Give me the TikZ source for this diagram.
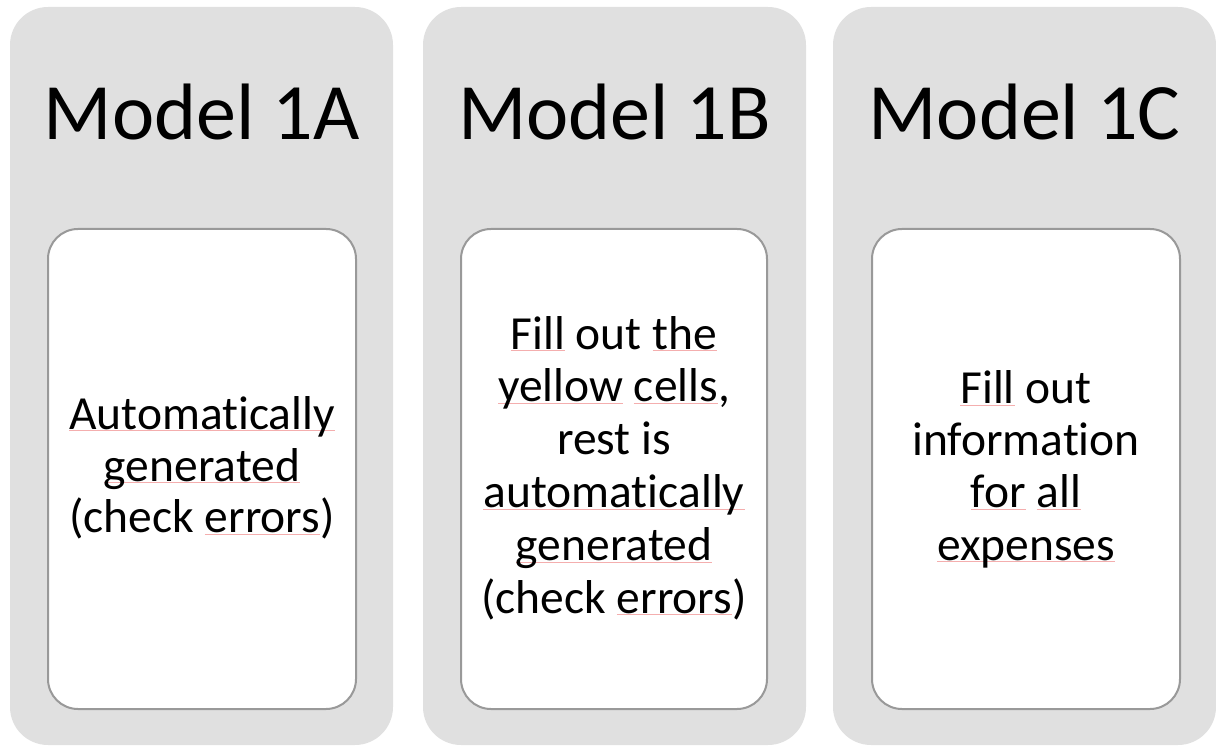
\documentclass[tikz,border=0pt]{standalone}
\usepackage{fontspec}
\setmainfont{Carlito}[Ligatures=NoCommon]
\definecolor{panel}{HTML}{E0E0E0}
\definecolor{edge}{HTML}{999999}
\definecolor{squig}{HTML}{F4AEAE}
\newcommand\sqz[1]{\setbox0\hbox{#1}\rlap{\textcolor{squig}{\rule[-2.2pt]{\wd0}{0.8pt}}}\box0\relax}
\tikzset{
  panelbox/.style={fill=panel, draw=none, rounded corners=38pt},
  innerbox/.style={fill=white, draw=edge, line width=2pt, rounded corners=30pt},
  titletext/.style={anchor=base, inner sep=0pt, font=\fontsize{80}{96}\selectfont},
  bodytext/.style={anchor=base, inner sep=0pt, align=center},
}
\begin{document}
\begin{tikzpicture}[x=1pt,y=1pt]
\useasboundingbox (0,0) rectangle (1216,748);
% panels (image y -> 748 - y)
\path[panelbox] (10,3) rectangle (393,741);
\path[panelbox] (423,3) rectangle (806,741);
\path[panelbox] (833,3) rectangle (1216,741);
\path[innerbox] (48,39) rectangle (356,519);
\path[innerbox] (461,39) rectangle (767,519);
\path[innerbox] (872,39) rectangle (1180,519);
% titles
\node[titletext] (t1) at (201.5,608) {Model 1A};
\node[titletext] (t2) at (614.5,608) {Model 1B};
\node[titletext] (t3) at (1024.5,608) {Model 1C};
% bodies (anchor = baseline of last line)
\node[bodytext, font=\fontsize{47.5}{52}\selectfont] (b1) at (202,215)
  {\sqz{Automatically}\\ \sqz{generated}\\ (check \sqz{errors})};
\node[bodytext, font=\fontsize{47.5}{52.8}\selectfont] (b2) at (614,135)
  {\sqz{Fill} out \sqz{the}\\ \sqz{yellow} \sqz{cells},\\ rest is\\ \sqz{automatically}\\ \sqz{generated}\\ (check \sqz{errors})};
\node[bodytext, font=\fontsize{47.5}{52.3}\selectfont] (b3) at (1026,188)
  {\sqz{Fill} out\\ information\\ \sqz{for} \sqz{all}\\ \sqz{expenses}};
\end{tikzpicture}
\end{document}
